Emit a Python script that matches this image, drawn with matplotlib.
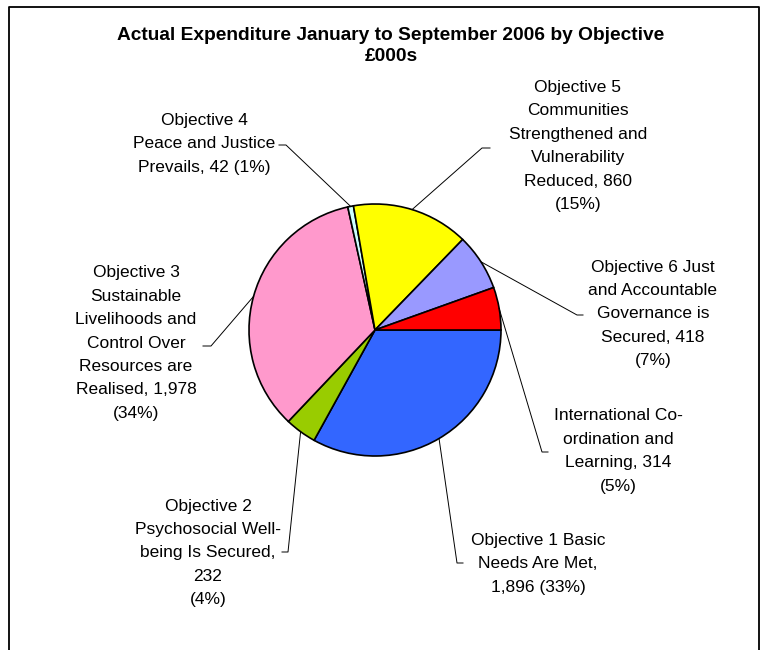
import matplotlib
matplotlib.use('Agg')
import matplotlib.pyplot as plt
import numpy as np

matplotlib.rcParams['font.family'] = ['Liberation Sans', 'DejaVu Sans']

# Data (£000s)
names = ['Objective 1 Basic\nNeeds Are Met,',
         'Objective 2\nPsychosocial Well-\nbeing Is Secured,',
         'Objective 3\nSustainable\nLivelihoods and\nControl Over\nResources are\nRealised,',
         'Objective 4\nPeace and Justice\nPrevails,',
         'Objective 5\nCommunities\nStrengthened and\nVulnerability\nReduced,',
         'Objective 6 Just\nand Accountable\nGovernance is\nSecured,',
         'International Co-\nordination and\nLearning,']
values = [1896, 232, 1978, 42, 860, 418, 314]
colors = ['#3366FF', '#99CC00', '#FF99CC', '#CCFFFF', '#FFFF00', '#9999FF', '#FF0000']
title = 'Actual Expenditure January to September 2006 by Objective\n£000s'

# how each label wraps before the value and before the percentage
sep_value = ['\n', '\n', ' ', ' ', ' ', ' ', ' ']
sep_pct = [' ', '\n', '\n', ' ', '\n', '\n', '\n']

W, H = 767, 650
def P(x, y):
    # pixel position (from top-left) to data coords
    return x, H - y

# label centres and leader elbows, in pixels
label_pos = [(538, 564), (208, 553), (136, 343), (204, 144), (578, 146), (653, 314), (618, 451)]
elbows = [((457, 563), (463, 563)),
          ((288, 552), (282, 552)),
          ((211, 346), (203, 346)),
          ((286, 145), (279, 145)),
          ((482, 148), (490, 148)),
          ((577, 315), (583, 315)),
          ((542, 452), (548, 452))]

fig = plt.figure(figsize=(W / 100, H / 100), dpi=100)
ax = fig.add_axes([0, 0, 1, 1])

cx, cy = P(375, 330)
radius = 126
wedges, _ = ax.pie(values, colors=colors, startangle=0, counterclock=False,
                   center=(cx, cy), radius=radius,
                   wedgeprops=dict(edgecolor='black', linewidth=1.2))
ax.set_xlim(0, W)
ax.set_ylim(0, H)
ax.set_aspect('equal')
ax.axis('off')

total = sum(values)
for i, w in enumerate(wedges):
    pct = round(values[i] / total * 100)
    text = names[i] + sep_value[i] + f'{values[i]:,}' + sep_pct[i] + f'({pct}%)'
    lx, ly = P(*label_pos[i])
    ax.text(lx, ly, text, ha='center', va='center', multialignment='center',
            fontsize=12.5, linespacing=1.7, color='black')
    ang = np.deg2rad((w.theta1 + w.theta2) / 2)
    sx, sy = cx + radius * np.cos(ang), cy + radius * np.sin(ang)
    (ex, ey), (tx, ty) = elbows[i]
    ex, ey = P(ex, ey)
    tx, ty = P(tx, ty)
    ax.plot([sx, ex, tx], [sy, ey, ty], color='black', linewidth=0.7)

tx, ty = P(391, 46)
ax.text(tx, ty, title, ha='center', va='center', fontsize=13.8, fontweight='bold',
        linespacing=1.35)

# chart area border (runs off the bottom)
bx = [9, 9, 759, 759]
by = [652, 7, 7, 652]
ax.plot([P(x, y)[0] for x, y in zip(bx, by)], [P(x, y)[1] for x, y in zip(bx, by)],
        color='black', linewidth=1.3, clip_on=False)

fig.savefig('out.png', dpi=100, facecolor='white')
